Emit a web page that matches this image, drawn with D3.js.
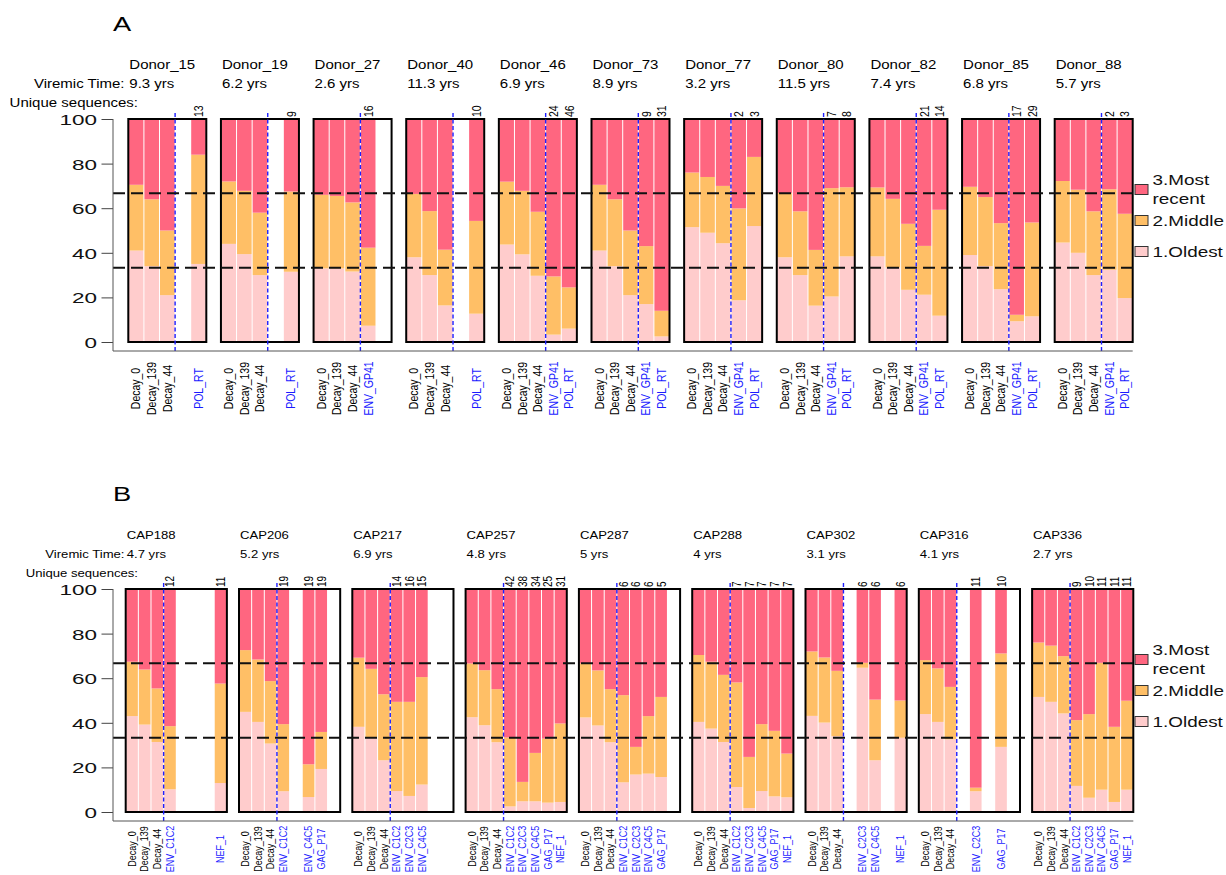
<!DOCTYPE html>
<html><head><meta charset="utf-8">
<script src="https://cdn.jsdelivr.net/npm/d3@7"></script>
<style>
body{margin:0;background:#fff}
text{font-family:"Liberation Sans",Arial,Helvetica,sans-serif}
</style>
</head><body>
<svg id="c" width="1226" height="875"></svg>
<script>
// ---------------- DATA ----------------
const yTicks = [0, 20, 40, 60, 80, 100];
const refLines = [100 / 3, 200 / 3];
const stackKeys = ["oldest", "middle", "recent"];
const legendKeys = ["recent", "middle", "oldest"];
const legendLabels = [["3.Most", "recent"], ["2.Middle"], ["1.Oldest"]];

// Panel A
const slotsA = ["Decay_0", "Decay_139", "Decay_44", "ENV_GP41", "POL_RT"];
const donorsA = ["Donor_15", "Donor_19", "Donor_27", "Donor_40", "Donor_46", "Donor_73", "Donor_77", "Donor_80", "Donor_82", "Donor_85", "Donor_88"];
const timesA = ["9.3 yrs", "6.2 yrs", "2.6 yrs", "11.3 yrs", "6.9 yrs", "8.9 yrs", "3.2 yrs", "11.5 yrs", "7.4 yrs", "6.8 yrs", "5.7 yrs"];
const oldestA = [
  [41, 34, 21, null, 35],
  [44, 39.4, 30, null, 31.5],
  [33, 33, 31.6, 7.3, null],
  [38, 30, 16.4, null, 12.7],
  [43.7, 39.3, 29.7, 3.3, 6],
  [41, 34, 21, 17, 2.5],
  [51.5, 49, 44.3, 18.7, 52],
  [38, 30, 16.3, 20.4, 38.4],
  [38.4, 33.4, 23.4, 21.2, 11.8],
  [39, 34, 23.7, 9.3, 11.5],
  [44.6, 40, 30, 32.4, 19.7]
];
const middleA = [
  [29.5, 30, 29, null, 49],
  [28, 28.4, 28, null, 36],
  [33, 32.5, 31, 35, null],
  [28.4, 28.7, 25, null, 41.6],
  [28.2, 28.5, 28.7, 26.1, 18.5],
  [29.5, 30, 29, 26, 11.5],
  [24.5, 25, 25.7, 41.2, 31],
  [28.8, 28.6, 25, 48.6, 31],
  [30.9, 30.8, 29.6, 21.9, 47.5],
  [30.6, 31, 29.6, 2.9, 42.1],
  [27.6, 28.3, 28.6, 36.1, 37.8]
];
const recentA = [
  [29.5, 36, 50, null, 16],
  [28, 32.2, 42, null, 32.5],
  [34, 34.5, 37.4, 57.7, null],
  [33.6, 41.3, 58.6, null, 45.7],
  [28.1, 32.2, 41.6, 70.6, 75.5],
  [29.5, 36, 50, 57, 86],
  [24, 26, 30, 40.1, 17],
  [33.2, 41.4, 58.7, 31, 30.6],
  [30.7, 35.8, 47, 56.9, 40.7],
  [30.4, 35, 46.7, 87.8, 46.4],
  [27.8, 31.7, 41.4, 31.5, 42.5]
];
const countsA = [
  [null, null, null, null, 13],
  [null, null, null, null, 9],
  [null, null, null, 16, null],
  [null, null, null, null, 10],
  [null, null, null, 24, 46],
  [null, null, null, 9, 31],
  [null, null, null, 2, 3],
  [null, null, null, 7, 8],
  [null, null, null, 21, 14],
  [null, null, null, 17, 29],
  [null, null, null, 2, 3]
];

// Panel B
const slotsB = ["Decay_0", "Decay_139", "Decay_44", "ENV_C1C2", "ENV_C2C3", "ENV_C4C5", "GAG_P17", "NEF_1"];
const capsB = ["CAP188", "CAP206", "CAP217", "CAP257", "CAP287", "CAP288", "CAP302", "CAP316", "CAP336"];
const timesB = ["4.7 yrs", "5.2 yrs", "6.9 yrs", "4.8 yrs", "5 yrs", "4 yrs", "3.1 yrs", "4.1 yrs", "2.7 yrs"];
const oldestB = [
  [43, 39.2, 31.4, 10.2, null, null, null, 13],
  [44.9, 40.4, 30.7, 9.3, null, 6.7, 19.3, null],
  [38.2, 33.4, 23.2, 9.4, 7.2, 12.3, null, null],
  [42.5, 38.9, 31.3, 2.5, 4.8, 4.8, 4.2, 4.5],
  [42.4, 38.8, 31.3, 13.3, 16.8, 17.2, 15.7, null],
  [40.4, 37.4, 31.4, 11.2, 1.8, 9.4, 7, 6.6],
  [43.1, 40.1, 34, null, 64.7, 23.2, null, 33.3],
  [43.9, 40.4, 32.6, null, 9.3, null, 29.2, null],
  [51.6, 49.4, 44.2, 11.7, 6.4, 10, 4.5, 10]
];
const middleB = [
  [24.4, 24.7, 24, 28.3, null, null, null, 44.6],
  [27.7, 28, 28, 30.1, null, 14.7, 16.6, null],
  [31, 30.8, 29.6, 40, 42.2, 48.2, null, null],
  [24.1, 24.7, 23.8, 30.9, 8.7, 21.7, 28.7, 35.2],
  [24.2, 24.7, 23.8, 39.1, 12.4, 25.8, 35.9, null],
  [30, 30, 30.1, 46.9, 22.9, 30, 29.4, 19.6],
  [28.9, 29.2, 29.3, null, 2.2, 27.2, null, 16.7],
  [24.2, 24, 23.5, null, 1.6, null, 41.9, null],
  [24.4, 25.2, 25.7, 29.5, 37.5, 56.9, 33.7, 39.9]
];
const recentB = [
  [32.6, 36.1, 44.6, 61.5, null, null, null, 42.4],
  [27.4, 31.6, 41.3, 60.6, null, 78.6, 64.1, null],
  [30.8, 35.8, 47.2, 50.6, 50.6, 39.5, null, null],
  [33.4, 36.4, 44.9, 66.6, 86.5, 73.5, 67.1, 60.3],
  [33.4, 36.5, 44.9, 47.6, 70.8, 57, 48.4, null],
  [29.6, 32.6, 38.5, 41.9, 75.3, 60.6, 63.6, 73.8],
  [28, 30.7, 36.7, null, 33.1, 49.6, null, 50],
  [31.9, 35.6, 43.9, null, 89.1, null, 28.9, null],
  [24, 25.4, 30.1, 58.8, 56.1, 33.1, 61.8, 50.1]
];
const countsB = [
  [null, null, null, 12, null, null, null, 11],
  [null, null, null, 19, null, 19, 19, null],
  [null, null, null, 14, 16, 15, null, null],
  [null, null, null, 42, 38, 34, 25, 31],
  [null, null, null, 6, 6, 6, 5, null],
  [null, null, null, 7, 7, 7, 7, 7],
  [null, null, null, null, 6, 6, null, 6],
  [null, null, null, null, 11, null, 10, null],
  [null, null, null, 9, 10, 11, 11, 11]
];

// ---------------- DRAW ----------------
const colors = { oldest: "#FFCCCC", middle: "#FFBF66", recent: "#FF6680" };
const svg = d3.select("#c");
svg.append("rect").attr("width", 1226).attr("height", 875).attr("fill", "#fff");

function stext(g, x, y, str, size, sx, anchor, fill) {
  return g.append("text")
    .attr("transform", `translate(${x},${y}) scale(${sx},1)`)
    .attr("text-anchor", anchor || "start")
    .style("font-size", size + "px")
    .attr("fill", fill || "#000")
    .text(str);
}

function drawPanel(cfg) {
  const g = svg.append("g").attr("transform", `translate(0,${cfg.dy})`);
  const y = d3.scaleLinear().domain([0, 100]).range([342, 119]);
  const xo = d3.scaleBand().domain(cfg.groups).range(cfg.xr).paddingInner(cfg.pad).paddingOuter(0);
  const xi = d3.scaleBand().domain(cfg.slots).range([0, xo.bandwidth()]).padding(0);
  const axisX = 113, bottomY = 351, rightX = cfg.xr[1];

  stext(g, 113, 31, cfg.letter, 21, 1.3, "start", "#000");
  stext(g, 138, 106.8, "Unique sequences:", cfg.hdrSize, 1.25, "end");
  stext(g, 124.5, 88.3, "Viremic Time:", cfg.hdrSize, 1.25, "end");

  cfg.groups.forEach((grp, i) => {
    const gx = xo(grp);
    const gg = g.append("g").attr("transform", `translate(${gx},0)`);
    stext(g, gx + 1, 69.3, grp, cfg.hdrSize, 1.25, "start");
    stext(g, gx + 1, 88.3, cfg.times[i], cfg.hdrSize, 1.25, "start");

    const rows = cfg.slots.map((s, j) => ({
      slot: s, oldest: cfg.oldest[i][j], middle: cfg.middle[i][j], recent: cfg.recent[i][j], count: cfg.counts[i][j]
    })).filter(r => r.oldest != null);
    const series = d3.stack().keys(stackKeys)(rows);
    series.forEach(s => {
      gg.selectAll(null).data(s).join("rect")
        .attr("x", d => xi(d.data.slot) + 0.5)
        .attr("width", xi.bandwidth() - 1)
        .attr("y", d => y(d[1]))
        .attr("height", d => y(d[0]) - y(d[1]))
        .attr("fill", colors[s.key]);
    });
    gg.append("rect").attr("x", 0).attr("y", y(100)).attr("width", xo.bandwidth())
      .attr("height", y(0) - y(100)).attr("fill", "none").attr("stroke", "#000").attr("stroke-width", 2);
    const bx = xi(cfg.slots[3]);
    gg.append("line").attr("x1", bx).attr("x2", bx).attr("y1", y(100) - 6).attr("y2", bottomY + 1)
      .attr("stroke", "#1f1fff").attr("stroke-width", 1.4).attr("stroke-dasharray", "4,2.5");
    gg.selectAll(null).data(rows.filter(r => r.count != null)).join("text")
      .attr("transform", d => `translate(${xi(d.slot) + xi.bandwidth() / 2},${y(100) - 2}) rotate(-90) scale(1,1.3)`)
      .attr("text-anchor", "start").attr("dominant-baseline", "central")
      .style("font-size", cfg.cntSize + "px").attr("fill", "#000")
      .text(d => d.count);
    gg.selectAll(null).data(rows).join("text")
      .attr("transform", d => `translate(${xi(d.slot) + xi.bandwidth() / 2},${cfg.lblY}) rotate(-90) scale(1,1.2)`)
      .attr("text-anchor", "middle").attr("dominant-baseline", "central")
      .style("font-size", cfg.lblSize + "px")
      .attr("fill", d => d.slot.startsWith("Decay") ? "#000" : "#1a1aff")
      .text(d => d.slot);
  });

  g.selectAll(null).data(refLines).join("line")
    .attr("x1", axisX).attr("x2", rightX)
    .attr("y1", d => y(d)).attr("y2", d => y(d))
    .attr("stroke", "#111").attr("stroke-width", 2).attr("stroke-dasharray", "12,6");

  const ag = g.append("g").attr("transform", `translate(${axisX},0)`)
    .call(d3.axisLeft(y).tickValues(yTicks).tickSize(11.5).tickSizeOuter(0));
  ag.attr("font-family", null).attr("font-size", null);
  ag.select(".domain").remove();
  ag.selectAll(".tick line").attr("stroke", "#444");
  ag.selectAll(".tick text")
    .attr("x", -16 / 1.5).attr("dy", "0.36em")
    .attr("transform", "scale(1.5,1)")
    .style("font-size", "15px").attr("fill", "#111");
  g.append("path").attr("d", `M${axisX},${y(100)}V${bottomY}H${rightX}`)
    .attr("fill", "none").attr("stroke", "#555").attr("stroke-width", 1);

  const lg = g.append("g");
  legendKeys.forEach((k, i) => {
    const cy = 189.5 + i * 31;
    lg.append("rect").attr("x", 1135).attr("y", cy - 5).attr("width", 13).attr("height", 10)
      .attr("fill", colors[k]).attr("stroke", "#333").attr("stroke-width", 1);
    const lines = legendLabels[i];
    lines.forEach((t, li) => {
      const tc = cy + (li - (lines.length - 1) / 2) * 19;
      stext(lg, 1152.5, tc + 5, t, 14, 1.35, "start", "#111");
    });
  });
}

drawPanel({
  letter: "A", dy: 0, groups: donorsA, times: timesA, slots: slotsA,
  oldest: oldestA, middle: middleA, recent: recentA, counts: countsA,
  xr: [128.3, 1132.7], pad: 0.158, hdrSize: 12, lblSize: 10.5, lblY: 388.5, cntSize: 10.5
});
drawPanel({
  letter: "B", dy: 470, groups: capsB, times: timesB, slots: slotsB,
  oldest: oldestB, middle: middleB, recent: recentB, counts: countsB,
  xr: [125.7, 1133.3], pad: 0.107, hdrSize: 10.5, lblSize: 9, lblY: 379, cntSize: 10
});
</script>
</body></html>
